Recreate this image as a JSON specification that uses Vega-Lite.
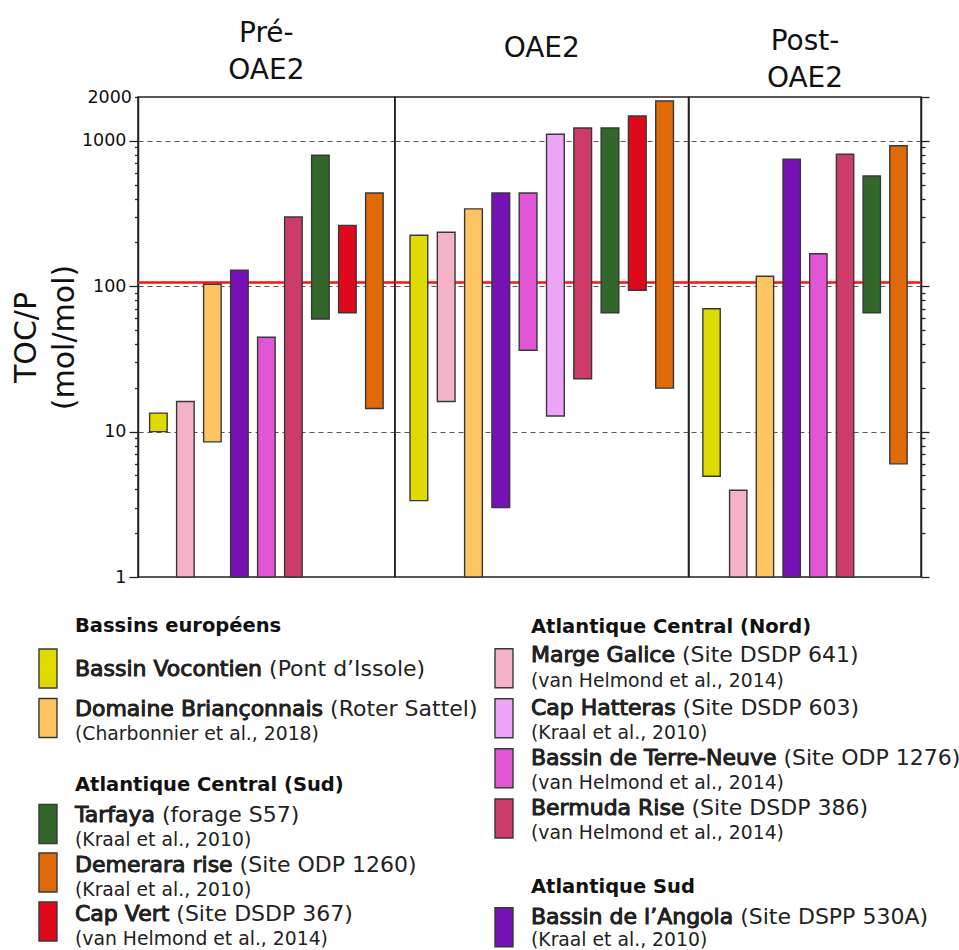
{
  "$schema": "https://vega.github.io/schema/vega-lite/v6.json",
  "background": "white",
  "padding": {"left": 10, "top": 19, "right": 5, "bottom": 0},
  "bounds": "full",
  "spacing": 10,
  "config": {
    "font": "DejaVu Sans",
    "view": {"stroke": "#222", "strokeWidth": 1.5},
    "title": {"fontSize": 28, "fontWeight": "normal", "color": "#111", "lineHeight": 37, "anchor": "middle", "font": "DejaVu Sans"},
    "axis": {"domainColor": "#222", "tickColor": "#222", "labelColor": "#111", "labelFont": "DejaVu Sans", "titleFont": "DejaVu Sans"}
  },
  "datasets": {
    "bars": [
      {"period": "Pré-OAE2", "site": "Bassin Vocontien", "min": 10, "max": 13.4},
      {"period": "Pré-OAE2", "site": "Marge Galice", "min": 1, "max": 16.1},
      {"period": "Pré-OAE2", "site": "Domaine Briançonnais", "min": 8.5, "max": 103},
      {"period": "Pré-OAE2", "site": "Bassin de l’Angola", "min": 1, "max": 129},
      {"period": "Pré-OAE2", "site": "Bassin de Terre-Neuve", "min": 1, "max": 44.5},
      {"period": "Pré-OAE2", "site": "Bermuda Rise", "min": 1, "max": 299},
      {"period": "Pré-OAE2", "site": "Tarfaya", "min": 59.5, "max": 795},
      {"period": "Pré-OAE2", "site": "Cap Vert", "min": 65.7, "max": 262},
      {"period": "Pré-OAE2", "site": "Demerara rise", "min": 14.4, "max": 437},
      {"period": "OAE2", "site": "Bassin Vocontien", "min": 3.35, "max": 224},
      {"period": "OAE2", "site": "Marge Galice", "min": 16.1, "max": 235},
      {"period": "OAE2", "site": "Domaine Briançonnais", "min": 1, "max": 340},
      {"period": "OAE2", "site": "Bassin de l’Angola", "min": 3.0, "max": 437},
      {"period": "OAE2", "site": "Bassin de Terre-Neuve", "min": 36.3, "max": 437},
      {"period": "OAE2", "site": "Cap Hatteras", "min": 12.8, "max": 1109},
      {"period": "OAE2", "site": "Bermuda Rise", "min": 23.1, "max": 1224},
      {"period": "OAE2", "site": "Tarfaya", "min": 65.7, "max": 1224},
      {"period": "OAE2", "site": "Cap Vert", "min": 93.7, "max": 1482},
      {"period": "OAE2", "site": "Demerara rise", "min": 19.9, "max": 1878},
      {"period": "Post-OAE2", "site": "Bassin Vocontien", "min": 4.93, "max": 70},
      {"period": "Post-OAE2", "site": "Marge Galice", "min": 1, "max": 3.95},
      {"period": "Post-OAE2", "site": "Domaine Briançonnais", "min": 1, "max": 117},
      {"period": "Post-OAE2", "site": "Bassin de l’Angola", "min": 1, "max": 746},
      {"period": "Post-OAE2", "site": "Bassin de Terre-Neuve", "min": 1, "max": 167},
      {"period": "Post-OAE2", "site": "Bermuda Rise", "min": 1, "max": 807},
      {"period": "Post-OAE2", "site": "Tarfaya", "min": 65.7, "max": 573},
      {"period": "Post-OAE2", "site": "Demerara rise", "min": 6.0, "max": 925}
    ],
    "redfield": [{"ratio": 106}],
    "legend": [
      {"col": 0, "line": 0, "kind": "header", "text": "Bassins européens"},
      {"col": 0, "line": 1.47, "kind": "swatch", "site": "Bassin Vocontien"},
      {"col": 0, "line": 1.77, "kind": "item", "site": "Bassin Vocontien", "text": "Bassin Vocontien (Pont d’Issole)"},
      {"col": 0, "line": 3.45, "kind": "swatch", "site": "Domaine Briançonnais"},
      {"col": 0, "line": 3.37, "kind": "item", "site": "Domaine Briançonnais", "text": "Domaine Briançonnais (Roter Sattel)"},
      {"col": 0, "line": 4.34, "kind": "cite", "text": "(Charbonnier et al., 2018)"},
      {"col": 0, "line": 6.37, "kind": "header", "text": "Atlantique Central (Sud)"},
      {"col": 0, "line": 7.69, "kind": "swatch", "site": "Tarfaya"},
      {"col": 0, "line": 7.61, "kind": "item", "site": "Tarfaya", "text": "Tarfaya (forage S57)"},
      {"col": 0, "line": 8.57, "kind": "cite", "text": "(Kraal et al., 2010)"},
      {"col": 0, "line": 9.63, "kind": "swatch", "site": "Demerara rise"},
      {"col": 0, "line": 9.6, "kind": "item", "site": "Demerara rise", "text": "Demerara rise (Site ODP 1260)"},
      {"col": 0, "line": 10.57, "kind": "cite", "text": "(Kraal et al., 2010)"},
      {"col": 0, "line": 11.59, "kind": "swatch", "site": "Cap Vert"},
      {"col": 0, "line": 11.57, "kind": "item", "site": "Cap Vert", "text": "Cap Vert (Site DSDP 367)"},
      {"col": 0, "line": 12.52, "kind": "cite", "text": "(van Helmond et al., 2014)"},
      {"col": 1, "line": 0.04, "kind": "header", "text": "Atlantique Central (Nord)"},
      {"col": 1, "line": 1.46, "kind": "swatch", "site": "Marge Galice"},
      {"col": 1, "line": 1.21, "kind": "item", "site": "Marge Galice", "text": "Marge Galice (Site DSDP 641)"},
      {"col": 1, "line": 2.21, "kind": "cite", "text": "(van Helmond et al., 2014)"},
      {"col": 1, "line": 3.46, "kind": "swatch", "site": "Cap Hatteras"},
      {"col": 1, "line": 3.34, "kind": "item", "site": "Cap Hatteras", "text": "Cap Hatteras (Site DSDP 603)"},
      {"col": 1, "line": 4.3, "kind": "cite", "text": "(Kraal et al., 2010)"},
      {"col": 1, "line": 5.46, "kind": "swatch", "site": "Bassin de Terre-Neuve"},
      {"col": 1, "line": 5.34, "kind": "item", "site": "Bassin de Terre-Neuve", "text": "Bassin de Terre-Neuve (Site ODP 1276)"},
      {"col": 1, "line": 6.3, "kind": "cite", "text": "(van Helmond et al., 2014)"},
      {"col": 1, "line": 7.47, "kind": "swatch", "site": "Bermuda Rise"},
      {"col": 1, "line": 7.34, "kind": "item", "site": "Bermuda Rise", "text": "Bermuda Rise (Site DSDP 386)"},
      {"col": 1, "line": 8.3, "kind": "cite", "text": "(van Helmond et al., 2014)"},
      {"col": 1, "line": 10.44, "kind": "header", "text": "Atlantique Sud"},
      {"col": 1, "line": 11.82, "kind": "swatch", "site": "Bassin de l’Angola"},
      {"col": 1, "line": 11.7, "kind": "item", "site": "Bassin de l’Angola", "text": "Bassin de l’Angola (Site DSPP 530A)"},
      {"col": 1, "line": 12.58, "kind": "cite", "text": "(Kraal et al., 2010)"}
    ]
  },
  "resolve": {"scale": {"color": "shared", "x": "independent", "y": "independent"}},
  "vconcat": [
    {
      "bounds": "flush",
      "spacing": 0,
      "resolve": {"scale": {"x": "independent", "y": "independent"}},
      "hconcat": [
        {
          "title": {"text": ["Pré-", "OAE2"], "offset": 3},
          "width": {"step": 27},
          "height": 480,
          "layer": [
            {
              "data": {"name": "redfield"},
              "mark": {"type": "rule", "color": "#ff1010", "strokeWidth": 2.5},
              "encoding": {"y": {"field": "ratio", "type": "quantitative", "scale": {"type": "log", "domain": [1, 2000], "nice": false}}}
            },
            {
              "data": {"name": "bars"},
              "transform": [{"filter": "datum.period == 'Pré-OAE2'"}],
              "mark": {"type": "bar", "stroke": "#383838", "strokeWidth": 1.4},
              "encoding": {
                "x": {"field": "site", "type": "nominal", "sort": ["Bassin Vocontien", "Marge Galice", "Domaine Briançonnais", "Bassin de l’Angola", "Bassin de Terre-Neuve", "Cap Hatteras", "Bermuda Rise", "Tarfaya", "Cap Vert", "Demerara rise"], "axis": null, "scale": {"paddingInner": 0.35, "paddingOuter": 0.43}},
                "y": {"field": "min", "type": "quantitative", "scale": {"type": "log", "domain": [1, 2000], "nice": false},
                  "axis": {
                    "values": [1, 2, 3, 4, 5, 6, 7, 8, 9, 10, 20, 30, 40, 50, 60, 70, 80, 90, 100, 200, 300, 400, 500, 600, 700, 800, 900, 1000, 2000],
                    "labelExpr": "indexof([1, 10, 100, 1000, 2000], datum.value) >= 0 ? format(datum.value, 'd') : ''",
                    "labelOverlap": false,
                    "labelFontSize": 17.5,
                    "labelPadding": 3,
                    "tickSize": {"condition": {"test": "indexof([1, 10, 100, 1000], datum.value) >= 0", "value": 9}, "value": 3.5},
                    "tickWidth": 1.3,
                    "domainWidth": 1.5,
                    "grid": true,
                    "gridDash": [5, 4],
                    "gridColor": "#555",
                    "gridWidth": 1,
                    "gridOpacity": {"condition": {"test": "indexof([10, 100, 1000], datum.value) >= 0", "value": 1}, "value": 0},
                    "title": ["TOC/P", "(mol/mol)"],
                    "titleFontSize": 30,
                    "titleFontWeight": "normal",
                    "titleLineHeight": 38,
                    "titleColor": "#111",
                    "titlePadding": 2
                  }
                },
                "y2": {"field": "max"},
                "color": {"field": "site", "type": "nominal", "legend": null,
                  "scale": {"domain": ["Bassin Vocontien", "Marge Galice", "Domaine Briançonnais", "Bassin de l’Angola", "Bassin de Terre-Neuve", "Cap Hatteras", "Bermuda Rise", "Tarfaya", "Cap Vert", "Demerara rise"],
                    "range": ["#dfdb00", "#f5b2c9", "#ffc462", "#7511b5", "#e056d6", "#eda6f7", "#cd3b68", "#33662a", "#e0091c", "#e06a08"]}}
              }
            }
          ]
        },
        {
          "title": {"text": "OAE2", "offset": 34},
          "width": {"step": 27.3},
          "height": 480,
          "layer": [
            {
              "data": {"name": "redfield"},
              "mark": {"type": "rule", "color": "#ff1010", "strokeWidth": 2.5},
              "encoding": {"y": {"field": "ratio", "type": "quantitative", "scale": {"type": "log", "domain": [1, 2000], "nice": false}}}
            },
            {
              "data": {"name": "bars"},
              "transform": [{"filter": "datum.period == 'OAE2'"}],
              "mark": {"type": "bar", "stroke": "#383838", "strokeWidth": 1.4},
              "encoding": {
                "x": {"field": "site", "type": "nominal", "sort": ["Bassin Vocontien", "Marge Galice", "Domaine Briançonnais", "Bassin de l’Angola", "Bassin de Terre-Neuve", "Cap Hatteras", "Bermuda Rise", "Tarfaya", "Cap Vert", "Demerara rise"], "axis": null, "scale": {"paddingInner": 0.35, "paddingOuter": 0.55}},
                "y": {"field": "min", "type": "quantitative", "scale": {"type": "log", "domain": [1, 2000], "nice": false},
                  "axis": {"values": [10, 100, 1000], "labels": false, "ticks": false, "domain": false, "grid": true, "gridDash": [5, 4], "gridColor": "#555", "gridWidth": 1, "title": null}
                },
                "y2": {"field": "max"},
                "color": {"field": "site", "type": "nominal", "legend": null}
              }
            }
          ]
        },
        {
          "title": {"text": ["Post-", "OAE2"], "offset": 3},
          "width": {"step": 26.7},
          "height": 480,
          "layer": [
            {
              "data": {"name": "redfield"},
              "mark": {"type": "rule", "color": "#ff1010", "strokeWidth": 2.5},
              "encoding": {"y": {"field": "ratio", "type": "quantitative", "scale": {"type": "log", "domain": [1, 2000], "nice": false}}}
            },
            {
              "data": {"name": "bars"},
              "transform": [{"filter": "datum.period == 'Post-OAE2'"}],
              "mark": {"type": "bar", "stroke": "#383838", "strokeWidth": 1.4},
              "encoding": {
                "x": {"field": "site", "type": "nominal", "sort": ["Bassin Vocontien", "Marge Galice", "Domaine Briançonnais", "Bassin de l’Angola", "Bassin de Terre-Neuve", "Cap Hatteras", "Bermuda Rise", "Tarfaya", "Cap Vert", "Demerara rise"], "axis": null, "scale": {"paddingInner": 0.35, "paddingOuter": 0.52}},
                "y": {"field": "min", "type": "quantitative", "scale": {"type": "log", "domain": [1, 2000], "nice": false},
                  "axis": {
                    "orient": "right",
                    "values": [1, 2, 3, 4, 5, 6, 7, 8, 9, 10, 20, 30, 40, 50, 60, 70, 80, 90, 100, 200, 300, 400, 500, 600, 700, 800, 900, 1000, 2000],
                    "labels": false,
                    "tickSize": {"condition": {"test": "indexof([1, 10, 100, 1000, 2000], datum.value) >= 0", "value": 8}, "value": 4},
                    "tickWidth": 1.3,
                    "domainWidth": 1.5,
                    "grid": true,
                    "gridDash": [5, 4],
                    "gridColor": "#555",
                    "gridWidth": 1,
                    "gridOpacity": {"condition": {"test": "indexof([10, 100, 1000], datum.value) >= 0", "value": 1}, "value": 0},
                    "title": null
                  }
                },
                "y2": {"field": "max"},
                "color": {"field": "site", "type": "nominal", "legend": null}
              }
            }
          ]
        }
      ]
    },
    {
      "width": 782,
      "height": 340,
      "view": {"stroke": null},
      "data": {"name": "legend"},
      "encoding": {
        "x": {"field": "col", "type": "quantitative", "scale": {"domain": [0.1974, 1.9123], "nice": false, "zero": false}, "axis": null},
        "y": {"field": "line", "type": "quantitative", "scale": {"domain": [-1.388, 12.212], "reverse": true, "nice": false, "zero": false}, "axis": null}
      },
      "layer": [
        {
          "transform": [{"filter": "datum.kind == 'swatch'"}],
          "mark": {"type": "point", "shape": "M-0.231,-0.5H0.231V0.5H-0.231Z", "size": 6084, "filled": true, "opacity": 1, "stroke": "#383838", "strokeWidth": 1.4},
          "encoding": {"color": {"field": "site", "type": "nominal", "legend": null}}
        },
        {
          "transform": [{"filter": "datum.kind == 'header'"}],
          "mark": {"type": "text", "align": "left", "baseline": "alphabetic", "dx": 27, "fontSize": 19.5, "fontWeight": "bold", "color": "#111"},
          "encoding": {"text": {"field": "text"}}
        },
        {
          "transform": [{"filter": "datum.kind == 'item'"}],
          "mark": {"type": "text", "align": "left", "baseline": "alphabetic", "dx": 27, "fontSize": 22, "color": "#222"},
          "encoding": {"text": {"field": "text"}}
        },
        {
          "transform": [{"filter": "datum.kind == 'item'"}],
          "mark": {"type": "text", "align": "left", "baseline": "alphabetic", "dx": 27, "fontSize": 22, "color": "#222", "stroke": "#222", "strokeWidth": 0.9},
          "encoding": {"text": {"field": "site"}}
        },
        {
          "transform": [{"filter": "datum.kind == 'cite'"}],
          "mark": {"type": "text", "align": "left", "baseline": "alphabetic", "dx": 27, "fontSize": 18.8, "color": "#222"},
          "encoding": {"text": {"field": "text"}}
        }
      ]
    }
  ]
}
